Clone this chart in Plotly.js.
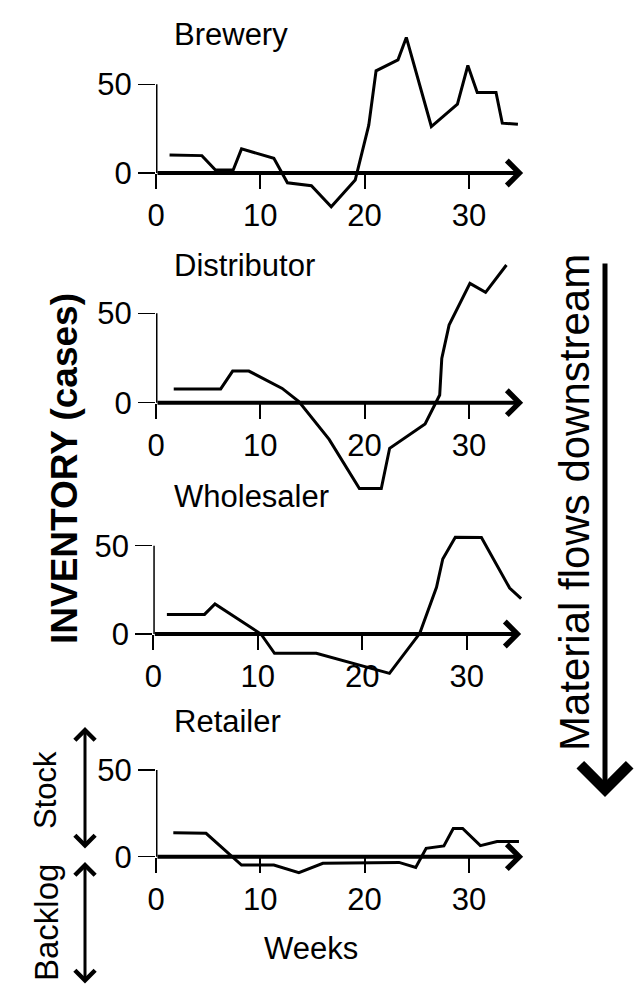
<!DOCTYPE html>
<html><head><meta charset="utf-8">
<script src="https://cdn.plot.ly/plotly-3.0.1.min.js"></script>
<style>html,body{margin:0;padding:0;background:#fff}#chart{width:640px;height:995px}</style>
</head><body><div id="chart"></div>
<script>
// ---- data ----
const panelNames = ['Brewery', 'Distributor', 'Wholesaler', 'Retailer'];

const breweryWeeks = [1.3, 4.4, 5.7, 7.4, 8.2, 11.3, 12.6, 14.9, 16.8, 19.1, 20.4, 21.1, 23.2, 24.0, 26.4, 28.9, 29.9, 30.8, 32.6, 33.2, 34.7];
const breweryInv   = [10.2, 9.8, 1.7, 1.7, 13.6, 8.3, -5.5, -7.2, -19, -4, 27, 57.6, 63.8, 76.4, 26.2, 38.8, 60.6, 45.4, 45.4, 28.1, 27.5];

const distributorWeeks = [1.7, 6.2, 7.35, 8.9, 12.1, 13.7, 16.6, 19.5, 21.6, 22.4, 25.8, 27.2, 27.4, 28.1, 30.1, 31.6, 33.6];
const distributorInv   = [7.7, 7.7, 17.7, 17.7, 8.0, 0.6, -20.5, -48, -48, -25.5, -11.9, 4.3, 24.8, 43.4, 66.7, 61.7, 77];

const wholesalerWeeks = [1.3, 4.9, 5.9, 10.3, 11.6, 15.6, 22.6, 25.5, 27.1, 27.7, 28.9, 31.4, 34.1, 35.2];
const wholesalerInv   = [11.1, 11.1, 17, 0, -10.9, -10.9, -22.3, 0.4, 26.4, 42.5, 54.8, 54.7, 26, 20];

const retailerWeeks = [1.66, 4.8, 8.2, 11.3, 13.7, 16.0, 23.3, 24.9, 25.9, 27.6, 28.5, 29.4, 31.1, 32.7, 34.8];
const retailerInv   = [13.8, 13.5, -4.8, -4.8, -9.2, -3.8, -3.3, -6.2, 4.8, 6.2, 16.3, 16.3, 6.4, 8.7, 8.7];

const weekTicks = [0, 10, 20, 30];
const invTicks = [0, 50];

const xLabel = 'Weeks';
const yLabel = 'INVENTORY (cases)';
const flowLabel = 'Material flows downstream';
const stockLabel = 'Stock';
const backlogLabel = 'Backlog';

// ---- layout geometry (pixels) ----
const W = 640, H = 995;
const FONT = 'Liberation Sans, Arial, Helvetica, sans-serif';
const seriesWeeks = [breweryWeeks, distributorWeeks, wholesalerWeeks, retailerWeeks];
const seriesInv = [breweryInv, distributorInv, wholesalerInv, retailerInv];
const geo = [
  {x0: 156,   sx: 10.43, y0: 173,   sy: 1.774, lo: -24, hi: 84, titleY: 34},
  {x0: 156,   sx: 10.43, y0: 402.7, sy: 1.788, lo: -52, hi: 80, titleY: 266},
  {x0: 153.3, sx: 10.45, y0: 634,   sy: 1.766, lo: -26, hi: 60, titleY: 496},
  {x0: 156,   sx: 10.43, y0: 856.7, sy: 1.734, lo: -12, hi: 55, titleY: 721}
];
const XMAX = 35.3;
const px2x = p => p / W;
const px2y = p => 1 - p / H;

const traces = [];
const layout = {
  width: W, height: H,
  margin: {l: 0, r: 0, t: 0, b: 0},
  paper_bgcolor: '#fff', plot_bgcolor: 'rgba(0,0,0,0)',
  showlegend: false,
  font: {family: FONT, color: '#000', size: 31},
  shapes: [], annotations: []
};

geo.forEach((g, i) => {
  const n = i === 0 ? '' : String(i + 1);
  const xa = 'x' + n, ya = 'y' + n;
  traces.push({
    x: seriesWeeks[i], y: seriesInv[i], xaxis: xa, yaxis: ya,
    type: 'scatter', mode: 'lines', line: {color: '#000', width: 3},
    hoverinfo: 'skip'
  });
  const top = g.y0 - g.hi * g.sy, bot = g.y0 - g.lo * g.sy;
  layout['xaxis' + n] = {
    domain: [px2x(g.x0), px2x(g.x0 + XMAX * g.sx)],
    range: [0, XMAX], anchor: 'free', position: px2y(g.y0),
    tickvals: weekTicks, ticktext: weekTicks.map(String),
    ticks: 'outside', ticklen: 15, tickwidth: 2, tickcolor: '#000',
    showline: false, showgrid: false, zeroline: false,
    tickfont: {family: FONT, size: 31, color: '#000'}, fixedrange: true
  };
  layout['yaxis' + n] = {
    domain: [px2y(bot), px2y(top)],
    range: [g.lo, g.hi], anchor: xa,
    tickvals: invTicks, ticktext: invTicks.map(String),
    ticks: 'outside', ticklen: 17, tickwidth: 1.5, tickcolor: '#000',
    showline: false, showgrid: false, zeroline: false,
    tickfont: {family: FONT, size: 31, color: '#000'}, fixedrange: true
  };
  // vertical axis stub 0..50
  layout.shapes.push({type: 'line', xref: xa, yref: ya, x0: 0, x1: 0, y0: invTicks[0], y1: invTicks[1],
    line: {color: '#000', width: 3}});
  // x axis arrow along zero
  layout.annotations.push({xref: xa, yref: ya, axref: xa, ayref: ya,
    x: 35.2, y: 0, ax: 0, ay: 0, text: '', showarrow: true,
    arrowhead: 4, arrowwidth: 4, arrowsize: 1.2, arrowcolor: '#000'});
  // panel title
  layout.annotations.push({xref: 'paper', yref: 'paper', x: px2x(172), y: px2y(g.titleY),
    xanchor: 'left', yanchor: 'middle', text: panelNames[i], showarrow: false,
    font: {family: FONT, size: 31, color: '#000'}});
});

// Weeks label
layout.annotations.push({xref: 'paper', yref: 'paper', x: px2x(311), y: px2y(948),
  xanchor: 'center', yanchor: 'middle', text: xLabel, showarrow: false,
  font: {family: FONT, size: 31, color: '#000'}});
// INVENTORY label
layout.annotations.push({xref: 'paper', yref: 'paper', x: px2x(64), y: px2y(469),
  xanchor: 'center', yanchor: 'middle', text: '<b>' + yLabel + '</b>', textangle: -90, showarrow: false,
  font: {family: FONT, size: 37, color: '#000'}});
// Material flows label
layout.annotations.push({xref: 'paper', yref: 'paper', x: px2x(574), y: px2y(503),
  xanchor: 'center', yanchor: 'middle', text: flowLabel, textangle: -90, showarrow: false,
  font: {family: FONT, size: 42, color: '#000'}});
// Material flows arrow
layout.annotations.push({xref: 'paper', yref: 'paper', x: px2x(605), y: px2y(797),
  ax: 0, ay: -535, text: '', showarrow: true,
  arrowhead: 4, arrowwidth: 5, arrowsize: 1.9, arrowcolor: '#000'});
// Stock / Backlog labels
layout.annotations.push({xref: 'paper', yref: 'paper', x: px2x(45), y: px2y(790),
  xanchor: 'center', yanchor: 'middle', text: stockLabel, textangle: -90, showarrow: false,
  font: {family: FONT, size: 31, color: '#000'}});
layout.annotations.push({xref: 'paper', yref: 'paper', x: px2x(46), y: px2y(923),
  xanchor: 'center', yanchor: 'middle', text: backlogLabel, textangle: -90, showarrow: false,
  font: {family: FONT, size: 33, color: '#000'}});
// Stock / Backlog double arrows
layout.annotations.push({xref: 'paper', yref: 'paper', x: px2x(85), y: px2y(727),
  ax: 0, ay: 123, text: '', showarrow: true, arrowside: 'end+start',
  arrowhead: 4, startarrowhead: 4, arrowwidth: 3, arrowsize: 1.3, startarrowsize: 1.3, arrowcolor: '#000'});
layout.annotations.push({xref: 'paper', yref: 'paper', x: px2x(85), y: px2y(862),
  ax: 0, ay: 123, text: '', showarrow: true, arrowside: 'end+start',
  arrowhead: 4, startarrowhead: 4, arrowwidth: 3, arrowsize: 1.3, startarrowsize: 1.3, arrowcolor: '#000'});

Plotly.newPlot('chart', traces, layout, {staticPlot: true, displayModeBar: false});
</script>
</body></html>
